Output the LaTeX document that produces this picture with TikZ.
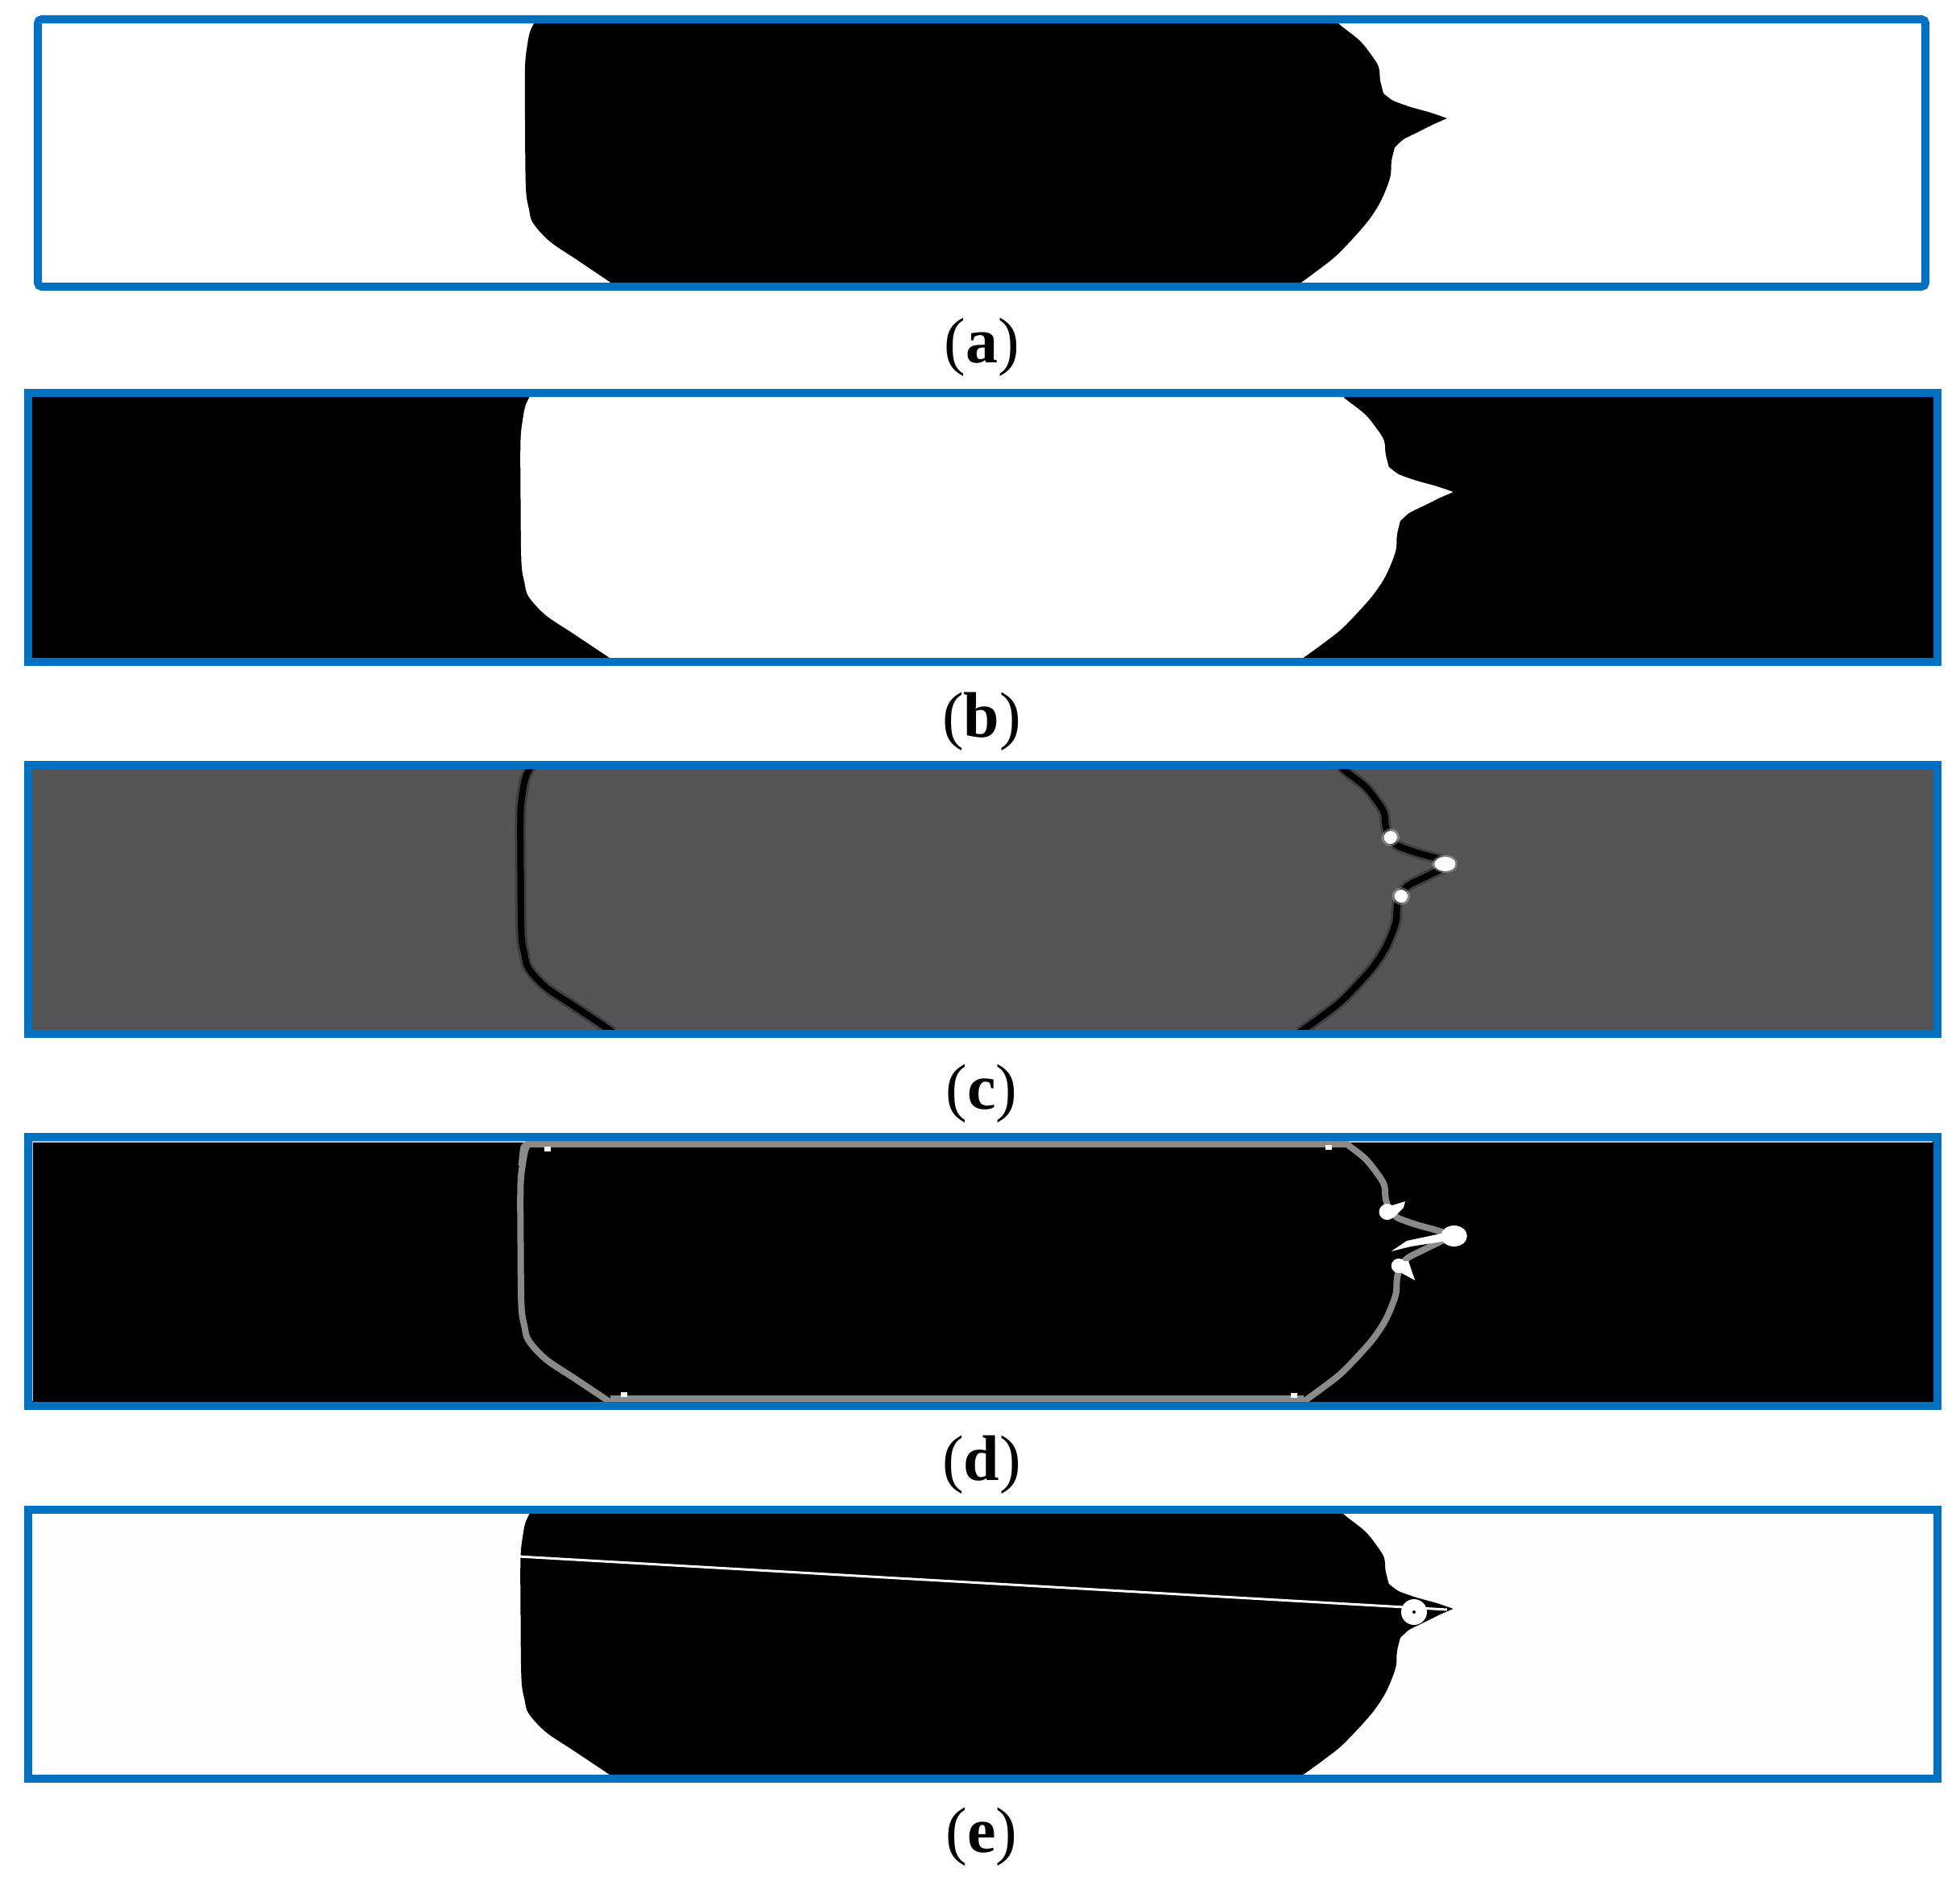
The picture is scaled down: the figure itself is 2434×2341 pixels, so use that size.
\documentclass[tikz,border=0pt]{standalone}
\usepackage{fontspec}
\setmainfont{Liberation Serif}
\definecolor{frameblue}{RGB}{0,112,192}
\definecolor{cgray}{RGB}{85,85,85}
\definecolor{dgray}{RGB}{138,138,138}
\definecolor{offwhite}{RGB}{253,253,253}
\newcommand{\rightpart}{(1660,24) -- plot[smooth,tension=0.55] coordinates {(1660,24)(1663,30)(1688,50)(1702,67)(1712,83)(1714,100)(1718,116)} -- plot[smooth,tension=0.4] coordinates {(1718,116)(1730,125)(1752,133)(1777,140)(1797,147)} -- plot[smooth,tension=0.4] coordinates {(1797,147)(1781,154)(1761,164)(1743,173)(1732,183)} -- plot[smooth,tension=0.55] coordinates {(1732,183)(1728,200)(1727,217)(1722,233)(1713,253)(1700,273)(1683,293)(1660,317)(1640,333)(1617,350)(1608,356)}}
\newcommand{\leftpart}{(765,356) -- plot[smooth,tension=0.55] coordinates {(765,356)(757,350)(717,323)(683,300)(662,277)(657,260)(653,233)(652,150)(652,83)(655,55)(658,40)(663,29)(665,24)}}
\newcommand{\shapepath}{(665,24) -- \rightpart -- \leftpart -- cycle}
\begin{document}
\begin{tikzpicture}[x=1pt,y=-1pt,
  bluebox/.style={draw=frameblue, line width=10pt},
  lbl/.style={font=\fontsize{80}{96}\selectfont, inner sep=0pt}]
\useasboundingbox (0,0) rectangle (2434,2341);
\fill[white] (0,0) rectangle (2434,2341);

% ---------- (a)
\begin{scope}
  \clip (47,24) rectangle (2391,356);
  \fill[black] \shapepath;
\end{scope}
\draw[bluebox, rounded corners=5pt] (47,24) rectangle (2391,356);
\node[lbl] (la) at (1219,431) {(\textbf{a})};

% ---------- (b)
\fill[black] (34.5,488) rectangle (2405.5,822);
\begin{scope}
  \clip (34.5,488) rectangle (2405.5,822);
  \begin{scope}[shift={(34.5,488)}, xscale=1.0115]
  \begin{scope}[shift={(-47,-24)}]
    \fill[white] \shapepath;
  \end{scope}
  \end{scope}
\end{scope}
\draw[bluebox] (34.5,488) rectangle (2405.5,822);
\node[lbl] (lb) at (1219,896) {(\textbf{b})};

% ---------- (c)
\fill[cgray] (34.5,950) rectangle (2405.5,1284);
\begin{scope}
  \clip (34.5,950) rectangle (2405.5,1284);
  \begin{scope}[shift={(34.5,950)}, xscale=1.0115]
  \begin{scope}[shift={(-47,-24)}]
    \draw[black, opacity=0.25, line width=14pt, line join=round] \rightpart;
    \draw[black, opacity=0.25, line width=14pt, line join=round] \leftpart;
    \draw[black, line width=8pt, line join=round] \rightpart;
    \draw[black, line width=8pt, line join=round] \leftpart;
    \fill[white, opacity=0.3] (1720,114) circle [radius=11];
    \fill[white] (1720,114) circle [radius=8];
    \fill[white, opacity=0.3] (1787,147) ellipse [x radius=16, y radius=11];
    \fill[white] (1787,147) ellipse [x radius=13, y radius=9];
    \fill[white, opacity=0.3] (1733,187) circle [radius=11];
    \fill[white] (1733,187) circle [radius=8];
  \end{scope}
  \end{scope}
\end{scope}
\draw[bluebox] (34.5,950) rectangle (2405.5,1284);
\node[lbl] (lc) at (1219,1358) {(\textbf{c})};

% ---------- (d)
\fill[black] (34.5,1412) rectangle (2405.5,1746);
\draw[gray!50, line width=1.5pt] (40.5,1740) -- (40.5,1418) -- (2399.5,1418);
\begin{scope}
  \clip (34.5,1412) rectangle (2405.5,1746);
  \begin{scope}[shift={(34.5,1412)}, xscale=1.0115]
  \begin{scope}[shift={(-47,-24)}]
    \draw[dgray, line width=8pt, line join=round] \shapepath;
    \draw[dgray, line width=8pt, rounded corners=6pt] (653,60) -- (656,33) -- (1666,33);
    \draw[dgray, line width=8pt] (762,349) -- (1613,349);
    % white blobs
    \fill[white] (1716,117) circle [radius=10];
    \fill[white] (1712,112) -- (1738,104) -- (1736,112) -- (1724,124) -- cycle;
    \fill[white] (1798,147) ellipse [x radius=16, y radius=13];
    \fill[white] (1796,141) -- (1796,152) -- (1745,160) -- (1721,166) -- (1740,153) -- cycle;
    \fill[white] (1730,184) circle [radius=9];
    \fill[white] (1722,180) -- (1742,178) -- (1750,202) -- (1728,190) -- cycle;
    \fill[white] (681,36) rectangle (689,42);
    \fill[white] (775,341) rectangle (783,347);
    \fill[white] (1640,34) rectangle (1648,40);
    \fill[white] (1598,342) rectangle (1606,348);
  \end{scope}
  \end{scope}
\end{scope}
\draw[bluebox] (34.5,1412) rectangle (2405.5,1746);
\node[lbl] (ld) at (1219,1819) {(\textbf{d})};

% ---------- (e)
\fill[offwhite] (34.5,1875) rectangle (2405.5,2209);
\begin{scope}
  \clip (34.5,1875) rectangle (2405.5,2209);
  \begin{scope}[shift={(34.5,1875)}, xscale=1.0115]
  \begin{scope}[shift={(-47,-24)}]
    \fill[black] \shapepath;
  \end{scope}
  \end{scope}
\end{scope}
\coordinate (eA) at (644,1933);
\coordinate (eB) at (1797,1999);
\draw[white, line width=3pt] (eA) -- (eB);
\node[circle, fill=white, minimum size=32pt, inner sep=0pt] (eC) at (1756,2002) {};
\fill[black] (eC.center) circle [radius=2];
\draw[bluebox] (34.5,1875) rectangle (2405.5,2209);
\node[lbl] (le) at (1219,2281) {(\textbf{e})};
\end{tikzpicture}
\end{document}
